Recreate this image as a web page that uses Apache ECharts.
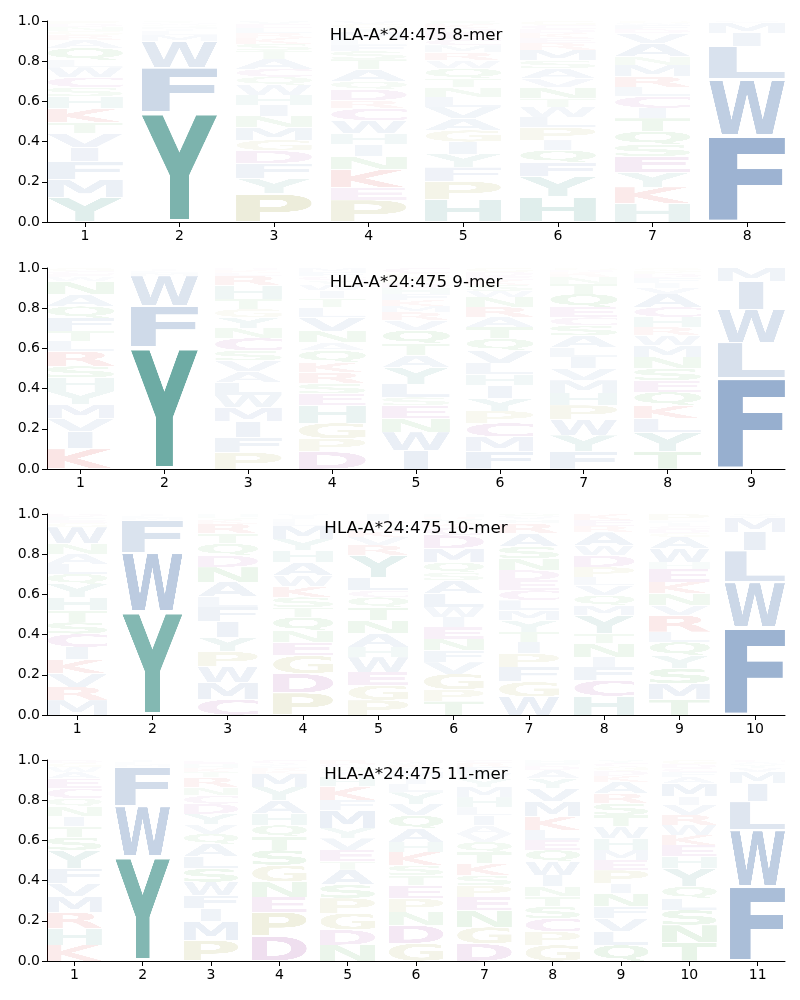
<!DOCTYPE html>
<html><head><meta charset="utf-8">
<script src="https://cdn.jsdelivr.net/npm/echarts@6/dist/echarts.min.js"></script>
<style>html,body{margin:0;padding:0;background:#fff}#c{width:800px;height:1000px}</style>
</head><body><div id="c"></div>
<script>
const allele = "HLA-A*24:475";
const peptideLengths = [8, 9, 10, 11];
const yTickLabels = ["0.0", "0.2", "0.4", "0.6", "0.8", "1.0"];

// Each position: [letters bottom->top, frequencies]
const logo8mer = [
  ["YMFIVTKHSCWLQARGNDP", [.124,.088,.088,.07,.07,.055,.07,.06,.045,.05,.05,.036,.06,.04,.025,.02,.02,.015,.014]],
  ["YFWMLIHQVTS", [.545,.225,.13,.03,.02,.012,.01,.008,.008,.006,.006]],
  ["PYFDGMNIHWQCATSKRLEV", [.14,.078,.074,.063,.053,.063,.056,.055,.05,.05,.04,.04,.05,.04,.035,.03,.025,.023,.02,.015]],
  ["PEKNIHWCRDQATSFLMYGV", [.11,.06,.09,.065,.06,.055,.065,.06,.04,.055,.04,.06,.05,.04,.03,.025,.04,.02,.02,.015]],
  ["HPFYIGAVLNTQWRMCEDKS", [.112,.09,.071,.066,.06,.058,.058,.058,.05,.046,.045,.05,.04,.04,.035,.03,.03,.025,.02,.016]],
  ["HYFQIPLWTNVASMREKDCG", [.125,.10,.071,.061,.05,.063,.053,.05,.041,.055,.045,.05,.04,.053,.033,.025,.025,.02,.02,.02]],
  ["HKYESQTICLRMNAVDFWG", [.093,.081,.074,.079,.058,.066,.066,.05,.058,.046,.053,.058,.041,.066,.05,.02,.02,.011,.01]],
  ["FWLIMV", [.43,.28,.165,.066,.05,.009]]
];
const logo9mer = [
  ["KIVMYHSRLTFQANWECG", [.10,.086,.066,.07,.066,.066,.058,.074,.05,.05,.066,.058,.058,.066,.02,.015,.015,.016]],
  ["YFWMLIH", [.606,.207,.149,.015,.01,.008,.005]],
  ["PFIMWLAVSCNYGTHREKD", [.082,.074,.08,.07,.063,.061,.054,.055,.05,.063,.05,.053,.041,.05,.066,.05,.015,.013,.01]],
  ["DPGHESRKQANVLTIWYCFM", [.086,.066,.077,.088,.058,.05,.056,.05,.058,.04,.058,.066,.05,.045,.04,.03,.02,.02,.022,.02]],
  ["IWNESLYATQVRMKFHDPGC", [.094,.09,.066,.066,.041,.066,.083,.06,.058,.066,.05,.04,.03,.03,.03,.03,.025,.025,.025,.025]],
  ["FMCPYIHLVQTARNWSKEDG", [.089,.071,.069,.06,.061,.066,.055,.056,.063,.058,.058,.05,.05,.05,.03,.03,.025,.02,.02,.02]],
  ["FYWPHMVILASCEQTNRKDG", [.086,.083,.078,.071,.061,.063,.058,.058,.046,.06,.05,.041,.05,.066,.05,.033,.015,.011,.01,.01]],
  ["TYLKQESNMWRHCAVIFDPG", [.086,.094,.071,.066,.066,.058,.058,.058,.058,.05,.041,.05,.05,.066,.03,.025,.025,.02,.015,.013]],
  ["FLWIM", [.455,.175,.165,.14,.065]]
];
const logo10mer = [
  ["MRVKICSTHYQLANWGEFD", [.074,.066,.066,.069,.063,.066,.058,.058,.066,.066,.05,.05,.05,.05,.083,.02,.016,.015,.015]],
  ["YWFMLI", [.514,.294,.162,.012,.01,.008]],
  ["CMWPYIFLANDQTRKSH", [.078,.083,.08,.074,.071,.078,.074,.05,.074,.074,.058,.058,.05,.05,.02,.015,.015]],
  ["PDGENQTSKWAHYMLFIV", [.11,.096,.09,.066,.058,.066,.05,.05,.053,.055,.066,.058,.058,.066,.02,.015,.013,.01]],
  ["PGEWHANTQCLYRVKMSDI", [.074,.074,.066,.074,.05,.066,.066,.066,.05,.033,.066,.11,.05,.04,.03,.02,.016,.015,.034]],
  ["TPGVFNEIWLASQMDCKYRH", [.069,.058,.078,.058,.058,.058,.058,.05,.05,.066,.066,.04,.05,.07,.066,.039,.02,.02,.013,.013]],
  ["WGFPITYMLCEDNSARHVQ", [.091,.074,.074,.066,.058,.05,.058,.05,.05,.05,.05,.05,.058,.058,.066,.05,.02,.015,.015]],
  ["HCFINTYMQVLPDWAREK", [.094,.079,.066,.05,.066,.05,.09,.05,.05,.05,.041,.05,.058,.05,.066,.03,.03,.03]],
  ["TMSYQLRVNKEHWAGDCIFP", [.079,.078,.074,.066,.066,.05,.083,.05,.058,.058,.066,.033,.066,.058,.02,.02,.015,.015,.013,.032]],
  ["FWLIMVY", [.435,.226,.157,.093,.069,.01,.01]]
];
const logo11mer = [
  ["KHRMVFYSTINQCEAWGD", [.08,.083,.08,.078,.066,.075,.09,.063,.053,.05,.05,.041,.05,.05,.03,.025,.02,.017]],
  ["YWFMLI", [.519,.252,.196,.013,.01,.01]],
  ["PMIFWSLAQVYDCNRTKHE", [.104,.091,.066,.066,.066,.066,.061,.063,.05,.046,.053,.05,.041,.041,.05,.025,.02,.02,.018]],
  ["DPENGSTQHAYMKRLVC", [.124,.12,.075,.075,.083,.075,.066,.058,.058,.066,.066,.066,.015,.015,.01,.01,.018]],
  ["NDGPSATEVYMFKHWQCR", [.08,.075,.083,.075,.066,.075,.041,.058,.058,.05,.09,.05,.066,.05,.025,.02,.02,.018]],
  ["GDNPETSKHAQVYLIMFRWC", [.088,.09,.066,.066,.066,.05,.05,.066,.05,.066,.066,.058,.058,.04,.03,.03,.02,.015,.015,.01]],
  ["DGNEPSKTQVAILHMYWFRC", [.086,.083,.083,.066,.058,.05,.058,.058,.05,.041,.041,.05,.041,.05,.05,.04,.03,.03,.02,.015]],
  ["GPCSTNIWQELKMVYADFH", [.08,.066,.066,.058,.05,.05,.058,.066,.058,.05,.05,.066,.075,.066,.05,.041,.02,.015,.015]],
  ["QLVFNIPEMHWTSRAKDGCY", [.08,.066,.066,.058,.066,.05,.066,.05,.05,.058,.058,.058,.058,.05,.058,.03,.025,.02,.018,.015]],
  ["TNSLQYHEKWRVIMAFCDG", [.091,.088,.075,.058,.058,.091,.058,.058,.05,.05,.05,.05,.041,.066,.03,.025,.02,.02,.021]],
  ["FWLIMVYAC", [.373,.279,.141,.091,.058,.02,.015,.013,.01]]
];
const panels = [logo8mer, logo9mer, logo10mer, logo11mer];

const BLUE = "rgb(28,80,150)", TEAL = "rgb(15,117,106)", OLIVE = "rgb(128,128,0)",
      PURPLE = "rgb(128,0,128)", RED = "rgb(200,0,0)", GREEN = "rgb(0,128,0)";
const aaColor = {A:BLUE,V:BLUE,L:BLUE,I:BLUE,M:BLUE,F:BLUE,W:BLUE,Y:TEAL,H:TEAL,
  G:OLIVE,P:OLIVE,D:PURPLE,E:PURPLE,C:PURPLE,K:RED,R:RED,N:GREEN,Q:GREEN,S:GREEN,T:GREEN};
const LETTERS = "ACDEFGHIKLMNPQRSTVWY";

const FONT = 'bold 240px "DejaVu Sans"';
function inkBox(letter) {
  const m = document.createElement('canvas').getContext('2d');
  m.font = FONT;
  const t = m.measureText(letter);
  return {L: t.actualBoundingBoxLeft, R: t.actualBoundingBoxRight,
          A: t.actualBoundingBoxAscent, D: t.actualBoundingBoxDescent};
}
const refBox = inkBox('E');
const refW = refBox.L + refBox.R;
const glyphCache = {};
function glyph(letter) {
  if (glyphCache[letter]) return glyphCache[letter];
  const b = inkBox(letter);
  const cv = document.createElement('canvas');
  cv.width = Math.ceil(b.L + b.R); cv.height = Math.ceil(b.A + b.D);
  const ctx = cv.getContext('2d');
  ctx.font = FONT; ctx.fillStyle = aaColor[letter]; ctx.textBaseline = 'alphabetic';
  ctx.fillText(letter, b.L, b.A);
  let wFrac = (b.L + b.R) / refW;
  if (wFrac > 0.85) wFrac = 1;
  glyphCache[letter] = {canvas: cv, wFrac: wFrac};
  return glyphCache[letter];
}

const gridTops = [21, 268, 514, 760];
const grids = [], xAxes = [], yAxes = [], titles = [], series = [];
panels.forEach((panel, pi) => {
  const n = peptideLengths[pi];
  grids.push({left: 47, width: 738, top: gridTops[pi], height: 201});
  const positions = [];
  for (let i = 1; i <= n; i++) positions.push(i);
  xAxes.push({type: 'value', gridIndex: pi, min: 0.6, max: n + 0.4,
    axisLine: {show: true, lineStyle: {color: '#000', width: 1}},
    axisTick: {show: true, length: 5, customValues: positions, lineStyle: {color: '#000'}},
    axisLabel: {customValues: positions, color: '#000', fontSize: 14, fontFamily: 'DejaVu Sans', margin: 7},
    splitLine: {show: false}});
  yAxes.push({type: 'value', gridIndex: pi, min: 0, max: 1, interval: 0.2,
    axisLine: {show: true, lineStyle: {color: '#000', width: 1}},
    axisTick: {show: true, length: 5, lineStyle: {color: '#000'}},
    axisLabel: {color: '#000', fontSize: 14, fontFamily: 'DejaVu Sans', margin: 7,
      formatter: v => yTickLabels[Math.round(v * 5)]},
    splitLine: {show: false}});
  titles.push({text: allele + " " + n + "-mer", left: 416, top: gridTops[pi] + 6.5, textAlign: 'center', padding: 0,
    textStyle: {fontSize: 16.7, fontWeight: 'normal', color: '#000', fontFamily: 'DejaVu Sans'}});
  const data = [];
  panel.forEach((col, ci) => {
    const letters = col[0], freqs = col[1];
    let base = 0;
    for (let k = 0; k < letters.length; k++) {
      data.push([ci + 1, base, base + freqs[k], LETTERS.indexOf(letters[k])]);
      base += freqs[k];
    }
  });
  series.push({type: 'custom', xAxisIndex: pi, yAxisIndex: pi, clip: false, silent: true,
    encode: {x: 0, y: [1, 2]}, data: data,
    renderItem: (params, api) => {
      const x = api.value(0), y0 = api.value(1), y1 = api.value(2);
      const g = glyph(LETTERS[api.value(3)]);
      const h = y1 - y0, pad = h * 0.025, hw = 0.4 * g.wFrac;
      const p0 = api.coord([x - hw, y1 - pad]);
      const p1 = api.coord([x + hw, y0 + pad]);
      return {type: 'image', style: {image: g.canvas, x: p0[0], y: p0[1],
        width: p1[0] - p0[0], height: p1[1] - p0[1], opacity: Math.min(1, h)}};
    }});
});

const chart = echarts.init(document.getElementById('c'), null, {renderer: 'canvas'});
chart.setOption({animation: false, backgroundColor: '#fff', title: titles, grid: grids,
  xAxis: xAxes, yAxis: yAxes, series: series});
</script>
</body></html>
